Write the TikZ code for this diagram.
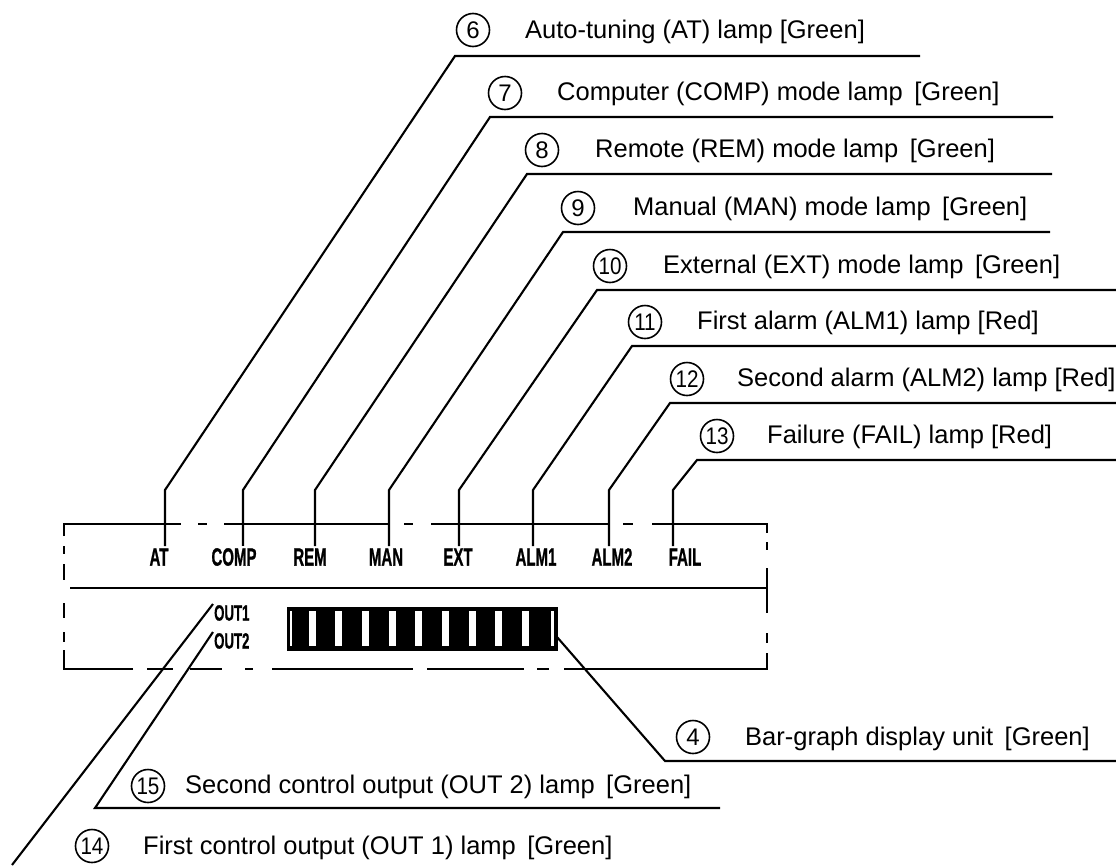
\documentclass[tikz,border=0pt]{standalone}
\usepackage{fontspec}
\usepackage{graphicx}
\setmainfont{Liberation Sans}
\newfontfamily\lblfont[FakeBold=1.2]{Liberation Sans Bold}
\newcommand\cnd[1]{\scalebox{0.6}[1]{#1}}
\newcommand\tw[1]{\scalebox{0.86}[1]{#1}}
\newcommand\gap{\hspace{0.45em}}
\begin{document}
\begin{tikzpicture}[x=1pt,y=-1pt,
  ln/.style={line width=2.1pt},
  bx/.style={line width=2.5pt},
  num/.style={circle,draw,line width=1.6pt,minimum size=33pt,inner sep=0pt,font=\fontsize{24}{25}\selectfont},
  captxt/.style={anchor=base west,inner sep=0pt,font=\fontsize{25.5}{27}\selectfont},
  lbl/.style={inner sep=2pt,font=\fontsize{25}{26}\selectfont\lblfont},
  outl/.style={anchor=north west,inner sep=1pt,font=\fontsize{22}{24}\selectfont\lblfont}]
\useasboundingbox (0,0) rectangle (1116,865);

% ---- box labels
\node[lbl] (lAT)   at (159,557) {\cnd{AT}};
\node[lbl] (lCOMP) at (234,557) {\cnd{COMP}};
\node[lbl] (lREM)  at (310,557) {\cnd{REM}};
\node[lbl] (lMAN)  at (386,557) {\cnd{MAN}};
\node[lbl] (lEXT)  at (458,557) {\cnd{EXT}};
\node[lbl] (lALMa) at (536,557) {\cnd{ALM1}};
\node[lbl] (lALMb) at (612,557) {\cnd{ALM2}};
\node[lbl] (lFAIL) at (685,557) {\cnd{FAIL}};
\node[outl] (o1) at (213,604) {\scalebox{0.6}[1]{OUT1}};
\node[outl] (o2) at (213,632) {\scalebox{0.6}[1]{OUT2}};

% ---- box outline (dashed pieces)
\draw[bx] (64,536) -- (64,524) -- (181,524);
\foreach \a/\b in {198/207,224/389,404/413,431/609,623/633}
  \draw[bx] (\a,524) -- (\b,524);
\draw[bx] (652,524) -- (767,524) -- (767,533);
\foreach \a/\b in {542/550,568/613,633/643}
  \draw[bx] (767,\a) -- (767,\b);
\draw[bx] (767,653) -- (767,669) -- (564,669);
\foreach \a/\b in {147/173,190/222,245/253,272/413,427/524,537/549}
  \draw[bx] (\a,669) -- (\b,669);
\draw[bx] (133,669) -- (64,669) -- (64,650);
\foreach \a/\b in {546/554,564/580,603/618,632/642}
  \draw[bx] (64,\a) -- (64,\b);
\draw[bx] (70,588) -- (767,588);

% ---- bar graph
\node[fill=black,draw=black,minimum width=270pt,minimum height=43pt,inner sep=0pt,anchor=north west] (bar) at (287,607) {};
\foreach \k in {0,...,8}
  \fill[white] ({308.5+26.7*\k},611) rectangle ++(7,35);
\fill[white] (289.5,611) rectangle (291.5,646);
\fill[white] (551,611) rectangle (553.5,646);

% ---- top callouts
\node[num] (c6)  at (473,30)  {6};
\node[num] (c7)  at (505,93)  {7};
\node[num] (c8)  at (542,150) {8};
\node[num] (c9)  at (578,208) {9};
\node[num] (c10) at (610,266) {\tw{10}};
\node[num] (c11) at (645,322) {\tw{11}};
\node[num] (c12) at (687,379) {\tw{12}};
\node[num] (c13) at (717,436) {\tw{13}};
\node[captxt] (t6)  at (525,38)  {Auto-tuning (AT) lamp [Green]};
\node[captxt] (t7)  at (557,100) {Computer (COMP) mode lamp\gap[Green]};
\node[captxt] (t8)  at (595,157) {Remote (REM) mode lamp\gap[Green]};
\node[captxt] (t9)  at (633,215) {Manual (MAN) mode lamp\gap[Green]};
\node[captxt] (t10) at (663,273) {External (EXT) mode lamp\gap[Green]};
\node[captxt] (t11) at (697,329) {First alarm (ALM1) lamp [Red]};
\node[captxt] (t12) at (737,386) {Second alarm (ALM2) lamp [Red]};
\node[captxt] (t13) at (767,443) {Failure (FAIL) lamp [Red]};

\coordinate (u6) at (455,56);   \coordinate (e6) at (920,56);   \coordinate (k6) at (165,490);
\coordinate (u7) at (490,117);  \coordinate (e7) at (1053,117); \coordinate (k7) at (243,490);
\coordinate (u8) at (527,174);  \coordinate (e8) at (1052,174); \coordinate (k8) at (315,490);
\coordinate (u9) at (563,232);  \coordinate (e9) at (1050,232); \coordinate (k9) at (389,490);
\coordinate (u10) at (597,290); \coordinate (e10) at (1116,290); \coordinate (k10) at (459,490);
\coordinate (u11) at (632,346); \coordinate (e11) at (1116,346); \coordinate (k11) at (533,490);
\coordinate (u12) at (670,403); \coordinate (e12) at (1116,403); \coordinate (k12) at (609,490);
\coordinate (u13) at (697,460); \coordinate (e13) at (1116,460); \coordinate (k13) at (673,490);

\draw[ln] (e6) -- (u6) -- (k6) -- (k6 |- lAT.north);
\draw[ln] (e7) -- (u7) -- (k7) -- (k7 |- lCOMP.north);
\draw[ln] (e8) -- (u8) -- (k8) -- (k8 |- lREM.north);
\draw[ln] (e9) -- (u9) -- (k9) -- (k9 |- lMAN.north);
\draw[ln] (e10) -- (u10) -- (k10) -- (k10 |- lEXT.north);
\draw[ln] (e11) -- (u11) -- (k11) -- (k11 |- lALMa.north);
\draw[ln] (e12) -- (u12) -- (k12) -- (k12 |- lALMb.north);
\draw[ln] (e13) -- (u13) -- (k13) -- (k13 |- lFAIL.north);

% ---- bar graph callout
\node[num] (c4) at (693,737) {4};
\node[captxt] (t4) at (745,745) {Bar-graph display unit\gap[Green]};
\coordinate (b4) at (557,637);
\coordinate (u4) at (665,761);
\coordinate (e4) at (1116,761);
\draw[ln] (b4) -- (u4) -- (e4);

% ---- output lamp callouts
\node[num] (c15) at (148,786) {\tw{15}};
\node[captxt] (t15) at (185,793) {Second control output (OUT 2) lamp\gap[Green]};
\node[num] (c14) at (92,846) {\tw{14}};
\node[captxt] (t14) at (143,854) {First control output (OUT 1) lamp\gap[Green]};
\coordinate (u15) at (95,808);
\coordinate (e15) at (720,808);
\coordinate (k14) at (12,865);
\draw[ln] (o2.north west) -- (u15) -- (e15);
\draw[ln] (o1.north west) -- (k14);
\end{tikzpicture}
\end{document}
